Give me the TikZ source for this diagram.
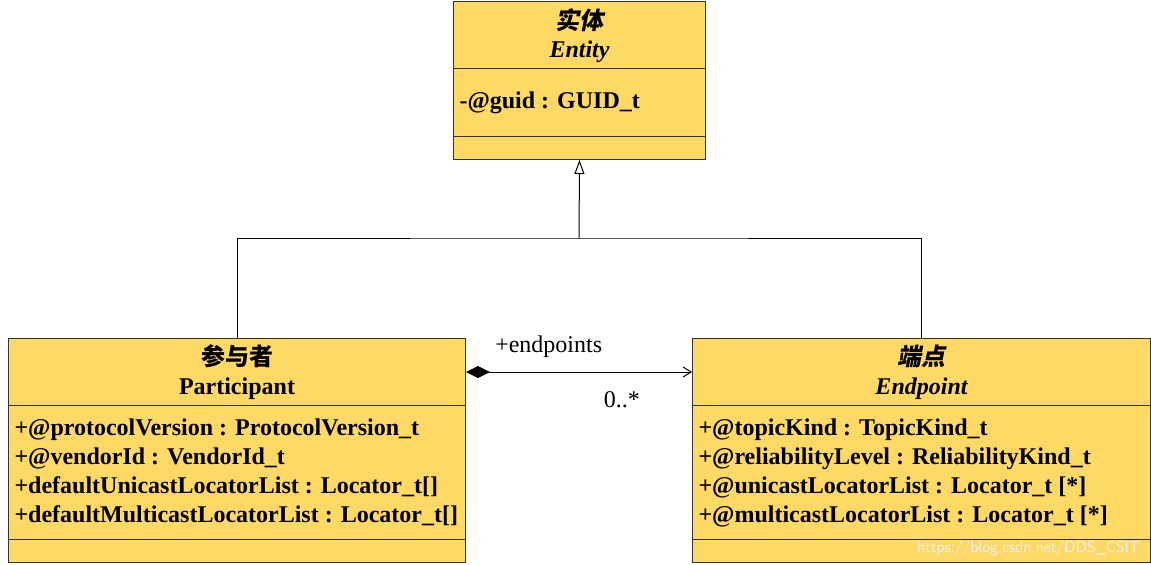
\documentclass[tikz,border=0pt]{standalone}
\usepackage{fontspec}
\setmainfont{Liberation Serif}
\newfontfamily\cjk{Noto Sans CJK SC}
\newfontfamily\cjkit{Noto Sans CJK SC}[FakeSlant=0.2]
\usetikzlibrary{arrows.meta, positioning}
\definecolor{classfill}{RGB}{255,217,102}
\def\Tsize{\fontsize{18}{21.75}\selectfont}

\begin{document}
\begin{tikzpicture}[x=0.75pt, y=-0.75pt, line width=0.75pt, font=\Tsize,
    classbox/.style={draw=black!80, fill=classfill, anchor=north west, inner sep=0pt},
    attrs/.style={anchor=base west, align=left, inner sep=0pt, font=\Tsize\bfseries},
    title/.style={anchor=base, inner sep=0pt}]
  \useasboundingbox (0,0) rectangle (1151,564);

  % the three classes
  \node (ent) [classbox, minimum width=189pt, minimum height=118.5pt] at (453,1) {};
  \node (part) [classbox, minimum width=342.75pt, minimum height=168pt] at (8,338) {};
  \node (ep) [classbox, minimum width=343.5pt, minimum height=168pt] at (692,338) {};
  \foreach \c in {ent, part, ep} {
    \draw[black!80] ([yshift=-50.25pt]\c.north west) -- ([yshift=-50.25pt]\c.north east);
    \draw[black!80] ([yshift=18pt]\c.south west) -- ([yshift=18pt]\c.south east);
  }

  % titles
  \node (entcn) [title] at ([yshift=-21pt]ent.north) {\cjkit\bfseries 实体};
  \node (enten) [title] at ([yshift=-42.5pt]ent.north) {\bfseries\itshape Entity};
  \node (partcn) [title] at ([yshift=-20.25pt]part.north) {\cjk\bfseries 参与者};
  \node (parten) [title] at ([yshift=-42pt]part.north) {\bfseries Participant};
  \node (epcn) [title] at ([yshift=-20.25pt]ep.north) {\cjkit\bfseries 端点};
  \node (epen) [title] at ([yshift=-42pt]ep.north) {\bfseries\itshape Endpoint};

  % attributes (base = last line)
  \node (entattr) [attrs] at ([xshift=4.5pt, yshift=-80.25pt]ent.north west) {-@guid : GUID\_t};
  \node (partattr) [attrs] at ([xshift=4.5pt, yshift=-138pt]part.north west)
    {+@protocolVersion : ProtocolVersion\_t\\
     +@vendorId : VendorId\_t\\
     +defaultUnicastLocatorList : Locator\_t[]\\
     +defaultMulticastLocatorList : Locator\_t[]};
  \node (epattr) [attrs] at ([xshift=4.5pt, yshift=-138pt]ep.north west)
    {+@topicKind : TopicKind\_t\\
     +@reliabilityLevel : ReliabilityKind\_t\\
     +@unicastLocatorList : Locator\_t [*]\\
     +@multicastLocatorList : Locator\_t [*]};

  % generalisation
  \coordinate (bus) at (579,238);
  \draw (part.north) |- (bus) -| (ep.north);
  \draw[-{Triangle[open, length=10.5pt, width=7.5pt]}] (bus) -- (ent.south);

  % composition
  \draw[{Diamond[length=18pt, width=9pt]}-{Straight Barb[length=6pt, width=7.5pt]}]
    ([yshift=-25.5pt]part.north east) -- ([yshift=-25.5pt]ep.north west)
    node (role) [pos=0.366, yshift=18.75pt] {+endpoints}
    node (mult) [pos=0.69, yshift=-21pt] {0..*};

  \node (mark) [anchor=base east, inner sep=0pt, text=white!90!gray,
    font=\sffamily\fontsize{12}{14}\selectfont] at (1140,552) {https://blog.csdn.net/DDS\_CSIT};
\end{tikzpicture}
\end{document}
